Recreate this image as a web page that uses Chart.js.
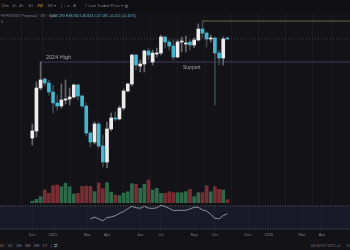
<!DOCTYPE html>
<html>
<head>
<meta charset="utf-8">
<script src="https://cdn.jsdelivr.net/npm/chart.js@4.4.1/dist/chart.umd.min.js"></script>
<style>
html,body{margin:0;padding:0;background:#131317;overflow:hidden;}
#wrap{position:relative;width:350px;height:250px;font-family:"Liberation Sans",Arial,sans-serif;}
#bar{position:absolute;left:0;top:0;width:350px;height:11px;background:#0f0f12;}
#main{position:absolute;left:0;top:12px;}
#ind{position:absolute;left:0;top:205px;}
.t{position:absolute;white-space:nowrap;color:#7c7c86;line-height:1;font-size:4px;}
</style>
</head>
<body>
<div id="wrap">
  <div id="bar"></div>
  <canvas id="main" width="350" height="193"></canvas>
  <canvas id="ind" width="350" height="35"></canvas>

  <div class="t" style="left:1px;top:4px">15m</div>
  <div class="t" style="left:12px;top:4px">1h</div>
  <div class="t" style="left:19px;top:4px">4h</div>
  <div class="t" style="left:28px;top:4px">1D</div>
  <div class="t" style="left:37px;top:4px;color:#d7a33f">1W</div>
  <div class="t" style="left:47px;top:4px">1M ▾</div>
  <div class="t" style="left:61px;top:4px">|&nbsp; ⫶ &nbsp;⊡ &nbsp;⊞</div>
  <div class="t" style="left:85px;top:4px">≡ Last Traded Price ▾</div>
  <div class="t" style="left:124px;top:3.5px;font-size:5px">⚙</div>

  <div class="t" style="left:1px;top:15px;font-size:3.6px">HYPEUSDT Perpetual · 1W · Bybit</div>
  <div class="t" style="left:51px;top:15px;font-size:3.6px;color:#5bb6cc">O47.290 H48.350 L46.824 C47.185 +0.151 (+0.32%)</div>
  <div class="t" style="left:1px;top:21px;font-size:3.6px">0</div>

  <div class="t" style="left:46px;top:55px;font-size:5.5px;color:#a3a3b0">2024 High</div>
  <div class="t" style="left:183px;top:65px;font-size:5px;color:#a3a3b0">Support</div>

  <div class="t" style="left:-1px;top:244px">1D&nbsp;&nbsp; 5D&nbsp;&nbsp; 1M&nbsp;&nbsp; 3M&nbsp;&nbsp; 6M&nbsp;&nbsp; 1Y&nbsp;&nbsp; | &nbsp;⇄</div>
  <div class="t" style="left:311px;top:244px">09:42:57 UTC+2</div>
  <div class="t" style="left:346px;top:244px">%</div>
</div>

<script>
// ---------------- Data (weekly candles) ----------------
const opens  = [13.25,14.50,25.16,28.24,26.83,23.91,20.76,19.98,21.57,21.85,22.42,26.15,22.71,19.98,14.13,12.59,15.86,11.96,9.74,14.88,17.13,16.91,19.47,24.21,26.49,38.41,33.36,34.23,40.43,35.12,38.91,39.41,48.40,45.38,43.11,37.44,45.38,44.23,45.38,43.67,46.55,53.60,50.90,47.15,47.80,39.41,36.97,47.29];
const highs  = [15.86,27.18,35.10,28.60,27.88,26.15,23.00,26.50,27.88,25.16,26.49,26.49,23.00,20.76,14.30,16.27,16.27,13.77,16.27,18.26,18.50,19.98,24.84,26.83,38.60,38.91,36.03,40.95,42.02,40.95,42.02,49.60,49.00,46.55,46.55,46.55,48.40,49.00,46.55,47.80,57.20,59.40,51.60,49.60,48.40,40.95,48.40,48.35];
const lows   = [12.12,13.43,24.52,25.82,23.00,18.26,18.98,19.47,20.50,20.24,22.14,21.57,19.47,13.60,11.81,12.27,11.66,9.14,9.02,14.50,16.48,16.70,18.98,23.91,25.82,31.69,30.89,30.89,36.03,33.79,37.44,38.41,42.02,40.95,36.03,36.97,39.92,39.92,40.95,42.02,45.97,47.80,42.56,45.38,20.24,33.79,33.79,46.82];
const closes = [14.50,25.16,27.88,26.83,23.91,20.76,19.98,21.57,21.85,22.42,26.15,22.71,19.98,14.13,12.59,15.86,11.96,9.74,14.88,17.13,16.91,19.47,24.21,26.49,38.41,33.79,34.23,40.43,38.41,39.41,39.41,48.40,45.38,43.11,37.44,45.38,45.97,44.80,43.67,46.55,53.60,50.90,47.15,47.80,39.41,36.97,47.15,47.185];
const volumes = [15,34,60,127,95,170,177,160,195,160,87,94,163,167,163,110,197,140,200,105,77,70,97,110,190,185,144,185,227,127,144,94,94,110,100,100,100,110,134,60,100,100,170,110,160,134,127,30];

const rsiStart = 14;
const rsiValues = [47.6,50.8,47.6,44.4,50,50.8,53.2,57.2,60.4,65.2,69.2,66.8,66,69.2,66.3,65.7,66.8,71.1,68.9,65.7,62,62.5,62.5,62.5,64.7,67.6,67.6,63.1,61.2,55.6,48.7,47.6,53.2,56.7];

const tickPos    = [0, 5, 13.2, 18, 26, 31, 39, 44, 52, 57, 65, 69.8];
const tickLabels = ['Dec','2025','Mar','Apr','Jun','Jul','Sep','Oct','Dec','2026','Mar','Apr'];

const high2024 = 35.10, high2024Idx = 2;
const athLevel = 59.40, athIdx = 41;
const lastPrice = 47.185;

// ---------------- Helpers ----------------
const xMin = -7.78, xMax = 76.55;
const UP = '#ececec', DOWN = '#45b6d0';
const idx = opens.map((_, i) => i);
const isUp = i => closes[i] >= opens[i];

function levelLine(from, value, color, width, dash){
    return {type:'line', data:[{x:from, y:value},{x:xMax, y:value}], borderColor:color,
            borderWidth:width, borderDash:dash||[], pointRadius:0, yAxisID:'y', order:5};
}
function fixedTicks(scale){ scale.ticks = tickPos.map(v => ({value:v})); }

// ---------------- Price pane ----------------
new Chart(document.getElementById('main'), {
    type:'bar',
    data:{datasets:[
        {data:idx.map(i => ({x:i, y:[opens[i], closes[i]]})), backgroundColor:idx.map(i => isUp(i)?UP:DOWN),
         barThickness:3, minBarLength:1, grouped:false, yAxisID:'y', order:0},
        {data:idx.map(i => ({x:i, y:[lows[i], highs[i]]})), backgroundColor:idx.map(i => isUp(i)?'#66666d':'#3a464c'),
         barThickness:1, grouped:false, yAxisID:'y', order:1},
        {data:idx.map(i => ({x:i, y:volumes[i]})), backgroundColor:idx.map(i => isUp(i)?'#2d6a4a':'#7a2e33'),
         barThickness:3, grouped:false, yAxisID:'yv', order:2},
        levelLine(high2024Idx, high2024, '#342c48', 1.5),
        levelLine(athIdx, athLevel, '#6a6440', 1),
        levelLine(xMin, lastPrice, '#43464f', 1, [1,2])
    ]},
    options:{
        responsive:false, animation:false, layout:{padding:0},
        plugins:{legend:{display:false}, tooltip:{enabled:false}},
        scales:{
            x:{type:'linear', min:xMin, max:xMax, bounds:'data', offset:false, afterBuildTicks:fixedTicks,
               ticks:{display:false}, grid:{color:'#1a1a20', drawTicks:false}, border:{display:false}},
            y:{type:'logarithmic', min:5.614, max:66.67, bounds:'data', display:false},
            yv:{type:'linear', min:-23, max:1907, bounds:'data', display:false}
        }
    }
});

// ---------------- RSI pane ----------------
new Chart(document.getElementById('ind'), {
    type:'line',
    data:{datasets:[
        {data:rsiValues.map((v,k) => ({x:rsiStart+k, y:v})), borderColor:'#a9adbb', borderWidth:0.8, pointRadius:0, tension:0},
        {data:[{x:xMin,y:70},{x:xMax,y:70}], borderColor:'#5d5d6a', borderWidth:1, borderDash:[1,1.5], pointRadius:0},
        {data:[{x:xMin,y:30},{x:xMax,y:30}], borderColor:'#5d5d6a', borderWidth:1, borderDash:[1,1.5], pointRadius:0,
         fill:1, backgroundColor:'rgba(51,48,102,0.22)'}
    ]},
    options:{
        responsive:false, animation:false, layout:{padding:{bottom:1.2}},
        plugins:{legend:{display:false}, tooltip:{enabled:false}},
        scales:{
            x:{type:'linear', min:xMin, max:xMax, bounds:'data', afterBuildTicks:fixedTicks,
               ticks:{autoSkip:false, maxRotation:0, padding:2, color:'#7c7c86',
                      font:{size:4, family:'"Liberation Sans", Arial, sans-serif', lineHeight:1.2},
                      callback:(v) => tickLabels[tickPos.indexOf(v)]},
               grid:{color:'#1a1a20', drawTicks:false}, border:{display:false}},
            y:{type:'linear', min:28.4, max:71.6, bounds:'data', display:false}
        }
    }
});
</script>
</body>
</html>
